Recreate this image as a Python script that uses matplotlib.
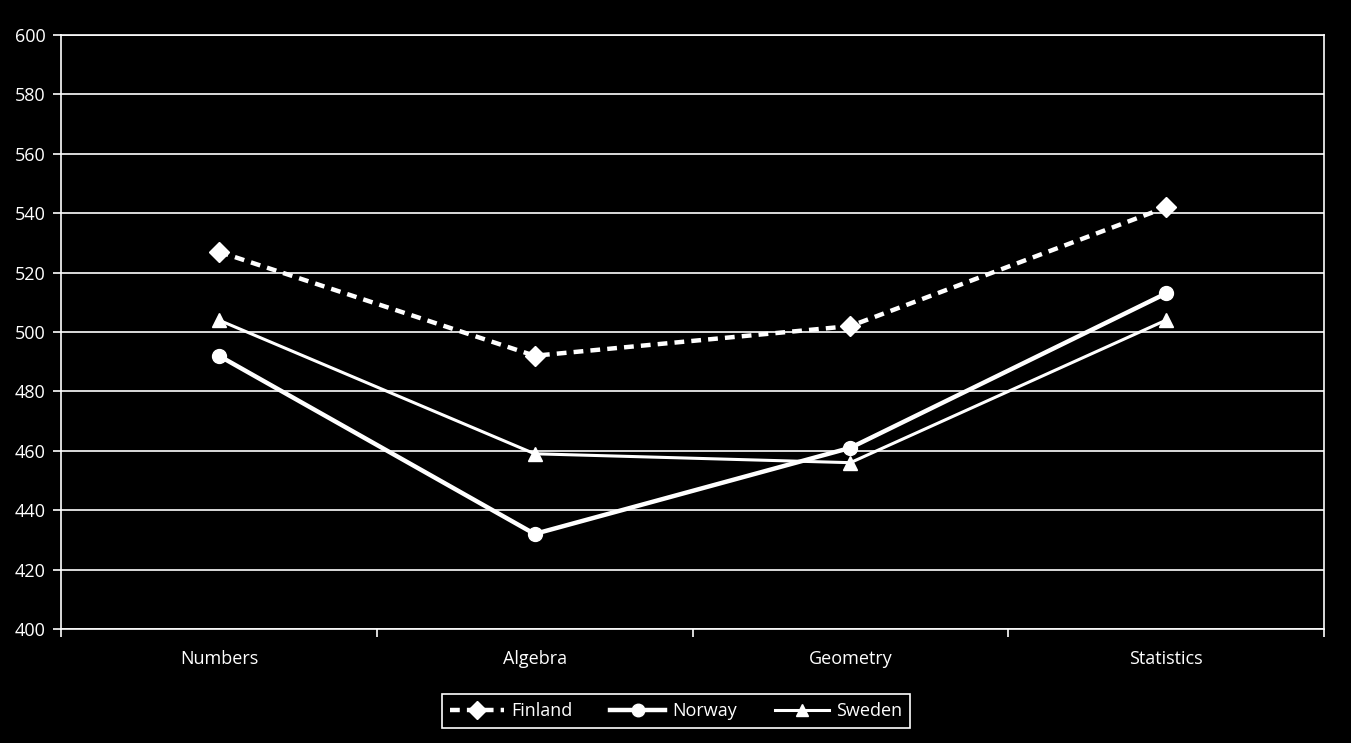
import matplotlib
matplotlib.use("Agg")
import matplotlib.pyplot as plt
import numpy as np

categories = ["Numbers", "Algebra", "Geometry", "Statistics"]
finland = [527, 492, 502, 542]
norway = [492, 432, 461, 513]
sweden = [504, 459, 456, 504]
yticks = list(range(400, 601, 20))

plt.rcParams['font.family'] = ['Open Sans', 'DejaVu Sans']

W, H = 1351, 743
fig = plt.figure(figsize=(W / 100, H / 100), dpi=100, facecolor='black')
ax = fig.add_axes([61 / W, (H - 629) / H, (1324 - 61) / W, (629 - 35) / H], facecolor='black')

x = np.arange(len(categories))
ax.plot(x, finland, color='white', mfc='white', mec='white', lw=3.2, ls=(0, (2.2, 1.6)), marker='D', ms=10, label='Finland', zorder=3)
ax.plot(x, norway, color='white', mfc='white', mec='white', lw=3.2, marker='o', ms=10, label='Norway', zorder=3)
ax.plot(x, sweden, color='white', mfc='white', mec='white', lw=2.2, marker='^', ms=10, label='Sweden', zorder=3)

ax.set_xlim(-0.5, len(categories) - 0.5)
ax.set_ylim(400, 600)
ax.set_yticks(yticks)
ax.set_yticklabels([str(v) for v in yticks])
ax.set_xticks(x)
ax.set_xticklabels(categories)
ax.set_xticks(np.arange(-0.5, len(categories), 1.0), minor=True)
ax.tick_params(axis='x', which='major', length=0, pad=15, colors='white', labelsize=13)
ax.tick_params(axis='x', which='minor', length=6, width=1.2, color='white')
ax.tick_params(axis='y', length=6, width=1.2, color='white', labelcolor='white', labelsize=13, pad=5)
ax.grid(axis='y', color='white', lw=1.2)
ax.set_axisbelow(True)
for s in ax.spines.values():
    s.set_color('white')
    s.set_linewidth(1.2)

leg = ax.legend(loc='center', bbox_to_anchor=((676 - 61) / (1324 - 61), -(711 - 629) / (629 - 35)),
                ncol=3, frameon=True, facecolor='black', edgecolor='white', framealpha=1, fontsize=13,
                labelcolor='white', handlelength=3.0, columnspacing=2.1, borderpad=0.45,
                handletextpad=0.4, borderaxespad=0, fancybox=False)
leg.get_frame().set_linewidth(1.2)
for h in leg.legend_handles:
    h.set_markersize(9)

fig.savefig('out.png', dpi=100, facecolor='black')
